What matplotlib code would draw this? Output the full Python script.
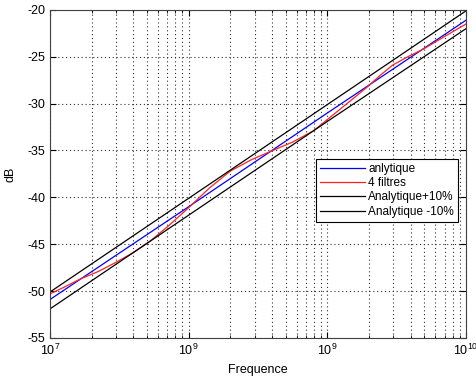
import numpy as np
import matplotlib.pyplot as plt
from matplotlib.ticker import LogLocator, NullFormatter

plt.rcParams['font.family'] = ['Liberation Sans', 'DejaVu Sans']
plt.rcParams['mathtext.fontset'] = 'custom'
plt.rcParams['mathtext.rm'] = 'Liberation Sans'
plt.rcParams['mathtext.it'] = 'Liberation Sans'
plt.rcParams['axes.unicode_minus'] = False

# valeurs
f_ana = [1e7, 1e8, 1e9, 1e10]
ana = [-50.9, -41.0, -31.0, -21.1]
ana_plus = [-50.1, -40.1, -30.1, -20.1]
ana_moins = [-51.9, -41.9, -31.9, -22.0]

log_f_filt = [7.0, 7.1, 7.22, 7.35, 7.48, 7.6, 7.72, 7.85, 8.0, 8.15, 8.3, 8.45,
              8.59, 8.75, 8.9, 9.1, 9.29, 9.38, 9.47, 9.58, 9.69, 9.85, 10.0]
filt = [-50.3, -49.6, -48.7, -47.9, -46.9, -45.9, -44.7, -43.1, -41.1, -39.0, -37.2, -36.0,
        -35.1, -34.1, -32.9, -30.5, -28.2, -27.0, -25.9, -25.0, -24.2, -22.8, -21.5]
f_filt = [10**v for v in log_f_filt]

xticks = [1e7, 1e8, 1e9, 1e10]
xticklabels = ['$10^{7}$', '$10^{9}$', '$10^{9}$', '$10^{10}$']
yticks = [-55, -50, -45, -40, -35, -30, -25, -20]

fig = plt.figure(figsize=(4.76, 3.81), dpi=100)
ax = fig.add_axes([0.105, 0.113, 0.874, 0.861])

ax.plot(f_ana, ana, color='b', lw=0.9, label='anlytique')
ax.plot(f_filt, filt, color='#ff2020', lw=0.9, label='4 filtres')
ax.plot(f_ana, ana_plus, color='k', lw=0.9, label='Analytique+10%')
ax.plot(f_ana, ana_moins, color='k', lw=0.9, label='Analytique -10%')

ax.set_xscale('log')
ax.set_xlim(1e7, 1e10)
ax.set_ylim(-55, -20)
ax.set_xticks(xticks)
ax.set_xticklabels(xticklabels)
ax.xaxis.set_minor_locator(LogLocator(base=10, subs=np.arange(2, 10), numticks=20))
ax.xaxis.set_minor_formatter(NullFormatter())
ax.set_yticks(yticks)

ax.grid(True, which='major', linestyle=(0, (1, 2.5)), color='#303030', lw=0.8)
ax.grid(True, which='minor', axis='x', linestyle=(0, (1, 2.5)), color='#303030', lw=0.8)
ax.tick_params(which='both', direction='in', top=True, right=True, labelsize=9)
ax.tick_params(which='major', length=4)
ax.tick_params(which='minor', length=2)
for s in ax.spines.values():
    s.set_color('#404040')

ax.set_xlabel('Frequence', fontsize=9)
ax.set_ylabel('dB', fontsize=9, labelpad=8)

leg = ax.legend(loc='upper right', bbox_to_anchor=(0.995, 0.565), fontsize=8.5,
                frameon=True, fancybox=False, handlelength=3.8,
                borderpad=0.35, labelspacing=0.2, handletextpad=0.3)
leg.get_frame().set_edgecolor('k')
leg.get_frame().set_linewidth(0.8)
leg.get_frame().set_alpha(1)

fig.savefig('out.png', dpi=100)
